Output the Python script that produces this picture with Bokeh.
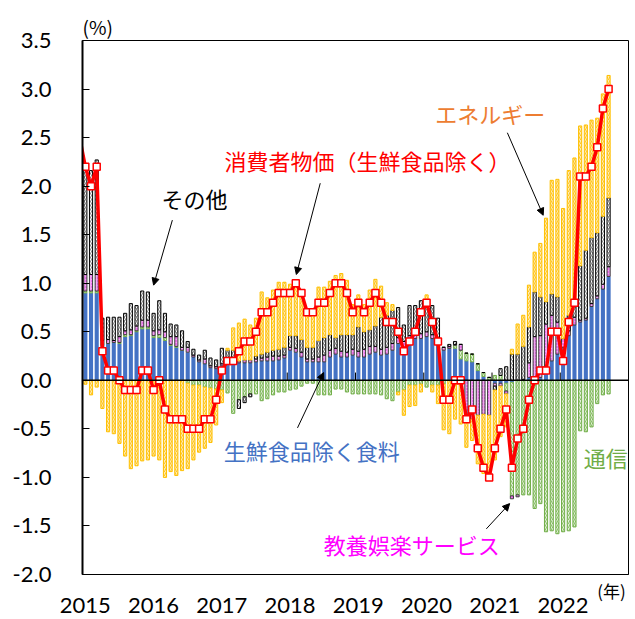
import numpy as np
from bokeh.plotting import figure
from bokeh.models import Range1d, FixedTicker, Label, Arrow, NormalHead, Span, Title
from bokeh.embed import file_html
from bokeh.resources import INLINE

# ---------------- data (monthly, Jan 2015 .. Sep 2022) ----------------
years = ["2015", "2016", "2017", "2018", "2019", "2020", "2021", "2022"]
n_slots = 96  # Jan 2015 .. Dec 2022 on the category axis

core_dec2014 = 2.5
core = [
    2.2, 2.0, 2.2, 0.3, 0.1, 0.1, 0.0, -0.1, -0.1, -0.1, 0.1, 0.1,
    -0.1, 0.0, -0.3, -0.4, -0.4, -0.4, -0.5, -0.5, -0.5, -0.4, -0.4, -0.2,
    0.1, 0.2, 0.2, 0.3, 0.4, 0.4, 0.5, 0.7, 0.7, 0.8, 0.9, 0.9,
    0.9, 1.0, 0.9, 0.7, 0.7, 0.8, 0.8, 0.9, 1.0, 1.0, 0.9, 0.7,
    0.8, 0.7, 0.8, 0.9, 0.8, 0.6, 0.6, 0.5, 0.3, 0.4, 0.5, 0.7,
    0.8, 0.6, 0.4, -0.2, -0.2, 0.0, 0.0, -0.4, -0.3, -0.7, -0.9, -1.0,
    -0.7, -0.5, -0.3, -0.9, -0.6, -0.5, -0.2, 0.0, 0.1, 0.1, 0.5, 0.5,
    0.2, 0.6, 0.8, 2.1, 2.1, 2.2, 2.4, 2.8, 3.0]

food = [
    0.90, 0.90, 0.90, 0.36, 0.38, 0.39, 0.38, 0.45, 0.46, 0.50, 0.53, 0.53,
    0.44, 0.44, 0.41, 0.36, 0.34, 0.31, 0.29, 0.24, 0.19, 0.17, 0.13, 0.12,
    0.15, 0.17, 0.17, 0.18, 0.18, 0.18, 0.19, 0.20, 0.20, 0.20, 0.21, 0.23,
    0.31, 0.29, 0.24, 0.19, 0.19, 0.19, 0.19, 0.24, 0.27, 0.24, 0.24, 0.26,
    0.24, 0.24, 0.27, 0.29, 0.26, 0.27, 0.31, 0.38, 0.33, 0.41, 0.43, 0.43,
    0.45, 0.43, 0.41, 0.31, 0.33, 0.33, 0.22, 0.20, 0.19, 0.10, 0.04, 0.00,
    -0.03, -0.03, -0.03, -0.02, 0.00, 0.01, 0.03, 0.03, 0.03, 0.10, 0.20, 0.27,
    0.34, 0.46, 0.57, 0.60, 0.62, 0.76, 0.84, 0.94, 1.07]

telecom = [
    0.02, 0.02, 0.02, 0.00, 0.00, 0.00, 0.01, 0.02, 0.01, 0.01, 0.02, 0.02,
    0.02, 0.03, 0.03, 0.01, 0.01, 0.00, -0.03, -0.05, -0.05, -0.07, -0.08, -0.09,
    -0.10, -0.13, -0.34, -0.20, -0.17, -0.14, -0.14, -0.21, -0.19, -0.15, -0.12, -0.12,
    -0.10, -0.09, -0.06, -0.03, -0.03, -0.15, -0.15, -0.15, -0.09, -0.09, -0.12, -0.14,
    -0.14, -0.14, -0.14, -0.14, -0.15, -0.19, -0.21, -0.12, -0.10, -0.05, -0.05, -0.04,
    -0.07, -0.05, -0.05, -0.04, 0.00, 0.03, 0.09, 0.08, 0.08, 0.07, 0.04, 0.03,
    0.05, 0.05, -0.08, -1.17, -1.18, -1.18, -1.18, -1.32, -1.27, -1.56, -1.55, -1.58,
    -1.56, -1.55, -1.51, -0.52, -0.53, -0.48, -0.24, -0.15, -0.14]

recreation = [
    0.17, 0.17, 0.17, 0.05, 0.04, 0.02, 0.06, 0.04, 0.05, 0.05, 0.07, 0.07,
    0.05, 0.05, 0.06, 0.08, 0.10, 0.03, 0.05, 0.02, 0.02, 0.05, 0.02, 0.02,
    0.02, 0.02, 0.04, 0.02, 0.03, 0.03, 0.03, 0.03, 0.04, 0.05, 0.04, 0.03,
    0.03, 0.04, 0.05, 0.03, 0.03, 0.05, 0.07, 0.07, 0.06, 0.06, 0.05, 0.06,
    0.06, 0.08, 0.08, 0.06, 0.06, 0.07, 0.07, 0.06, 0.07, 0.05, 0.05, 0.05,
    0.05, 0.04, 0.02, 0.03, 0.02, 0.01, 0.06, -0.38, -0.40, -0.36, -0.35, -0.36,
    -0.03, -0.03, -0.03, -0.03, -0.02, 0.00, 0.15, 0.42, 0.43, 0.48, 0.47, 0.33,
    0.09, 0.05, 0.08, 0.02, 0.02, 0.03, 0.03, 0.05, 0.10]

other = [
    1.12, 1.07, 1.18, 0.23, 0.23, 0.24, 0.20, 0.18, 0.27, 0.21, 0.30, 0.29,
    0.18, 0.30, 0.19, 0.13, 0.12, 0.17, 0.06, 0.06, 0.05, 0.09, 0.08, 0.07,
    0.16, 0.12, 0.10, -0.09, -0.06, -0.03, 0.03, 0.04, 0.05, 0.06, 0.07, 0.08,
    0.12, 0.13, 0.13, 0.12, 0.12, 0.17, 0.18, 0.16, 0.11, 0.17, 0.18, 0.15,
    0.25, 0.18, 0.17, 0.21, 0.33, 0.33, 0.34, 0.31, 0.17, 0.31, 0.29, 0.34,
    0.33, 0.30, 0.21, 0.00, 0.02, 0.03, 0.00, 0.00, 0.00, 0.00, 0.00, 0.00,
    -0.04, 0.07, 0.14, 0.27, 0.27, 0.34, 0.37, 0.46, 0.40, 0.23, 0.22, 0.26,
    0.00, 0.16, 0.12, 0.56, 0.70, 0.68, 0.65, 0.70, 0.71]

energy = [
    -0.04, -0.15, -0.07, -0.29, -0.53, -0.55, -0.65, -0.78, -0.91, -0.88, -0.83, -0.82,
    -0.78, -0.82, -1.00, -0.94, -0.98, -0.93, -0.88, -0.77, -0.69, -0.63, -0.56, -0.37,
    -0.13, 0.02, 0.23, 0.39, 0.42, 0.36, 0.39, 0.64, 0.56, 0.62, 0.69, 0.67,
    0.53, 0.54, 0.46, 0.36, 0.36, 0.55, 0.52, 0.55, 0.64, 0.63, 0.56, 0.31,
    0.33, 0.28, 0.41, 0.48, 0.32, 0.13, 0.06, -0.03, -0.26, -0.22, -0.21, -0.08,
    0.05, -0.07, -0.19, -0.47, -0.55, -0.40, -0.45, -0.31, -0.22, -0.50, -0.61, -0.67,
    -0.72, -0.52, -0.34, 0.05, 0.31, 0.32, 0.43, 0.41, 0.55, 0.86, 1.17, 1.21,
    1.34, 1.49, 1.52, 1.44, 1.29, 1.21, 1.18, 1.26, 1.26]

# ---------------- figure ----------------
p = figure(width=635, height=619, output_backend="svg", toolbar_location=None,
           x_range=Range1d(0, n_slots), y_range=Range1d(-2.0, 3.5),
           min_border_left=82, min_border_right=7, min_border_top=40, min_border_bottom=45)
p.grid.visible = False
p.outline_line_color = "black"
p.outline_line_width = 1
p.background_fill_color = "white"
p.border_fill_color = "white"

p.add_layout(Title(text="(%)", align="left", offset=0, standoff=2,
                   text_font="Noto Sans CJK JP", text_font_size="19px",
                   text_font_style="normal", text_color="black"), "above")

n = len(core)
xc = np.arange(n) + 0.5
pos_base = np.zeros(n)
neg_base = np.zeros(n)

styles = [
    (food, dict(fill_color="#4472C4", line_color=None)),
    (telecom, dict(fill_color="#E2F0D9", line_color="#70AD47", line_width=1,
                   hatch_pattern="/", hatch_color="#8CC16A", hatch_scale=4, hatch_weight=1)),
    (recreation, dict(fill_color="#F3A6F3", line_color="#3A3A3A", line_width=1,
                      hatch_pattern=".", hatch_color="#E020E0", hatch_scale=3, hatch_weight=1)),
    (other, dict(fill_color="#8A8A8A", line_color="black", line_width=1,
                 hatch_pattern="/", hatch_color="white", hatch_scale=4, hatch_weight=1)),
    (energy, dict(fill_color="#FFEBB0", line_color="#FFC000", line_width=1,
                  hatch_pattern="/", hatch_color="#FFC629", hatch_scale=4, hatch_weight=1)),
]
for vals, st in styles:
    v = np.array(vals, dtype=float)
    bottom = np.where(v >= 0, pos_base, neg_base)
    top = bottom + v
    pos_base = np.where(v >= 0, top, pos_base)
    neg_base = np.where(v < 0, top, neg_base)
    bw = 0.72 if st.get("line_color") is None else 0.55
    p.vbar(x=xc, bottom=bottom, top=top, width=bw, **st)

# zero line and year ticks on it
p.add_layout(Span(location=0, dimension="width", line_color="black", line_width=1.5))
yb = np.arange(1, len(years)) * 12
p.segment(x0=yb, y0=np.zeros(len(yb)), x1=yb, y1=np.full(len(yb), 0.08),
          line_color="black", line_width=1)

# core CPI line
xl = np.concatenate([[-0.5], xc])
yl = np.concatenate([[core_dec2014], core])
p.line(xl, yl, line_color="#FF0000", line_width=3.5)
p.scatter(xc, core, marker="square", size=7, fill_color="white",
          line_color="#FF0000", line_width=1.5)

# axes
yt = [-2.0, -1.5, -1.0, -0.5, 0.0, 0.5, 1.0, 1.5, 2.0, 2.5, 3.0, 3.5]
p.yaxis.ticker = FixedTicker(ticks=yt)
p.yaxis.major_label_overrides = {t: f"{t:.1f}" for t in yt}
p.yaxis.major_tick_in = 7
p.yaxis.major_tick_out = 0
p.yaxis.minor_tick_line_color = None
p.yaxis.axis_line_width = 2
p.yaxis.major_label_standoff = 31
p.yaxis.major_label_text_font = "Lato"
p.yaxis.major_label_text_font_size = "22px"
p.yaxis.major_label_text_color = "black"

xt = [i * 12 + 0.5 for i in range(len(years))]
p.xaxis.ticker = FixedTicker(ticks=xt)
p.xaxis.major_label_overrides = {t: y for t, y in zip(xt, years)}
p.xaxis.major_tick_in = 0
p.xaxis.major_tick_out = 0
p.xaxis.minor_tick_line_color = None
p.xaxis.major_label_standoff = 23
p.xaxis.major_label_text_font = "Lato"
p.xaxis.major_label_text_font_size = "22px"
p.xaxis.major_label_text_color = "black"

jp = "Noto Sans CJK JP"

# year unit label (年): as the x-axis label at the right end, pulled up between frame and years
p.xaxis.axis_label_align = "end"
p.xaxis.axis_label = "(年)\u2003\u2003"
p.xaxis.axis_label_standoff = -38
p.xaxis.axis_label_text_font = jp
p.xaxis.axis_label_text_font_size = "17px"
p.xaxis.axis_label_text_font_style = "normal"
p.xaxis.axis_label_text_color = "black"

def lab(x, y, text, color, size="22px"):
    p.add_layout(Label(x=x, y=y, text=text, text_color=color, text_font=jp,
                       text_font_size=size, text_align="center", text_baseline="middle"))

lab(50.1, 2.27, "消費者物価（生鮮食品除く）", "#FF0000")
lab(19.7, 1.88, "その他", "black")
lab(71.7, 2.75, "エネルギー", "#ED7D31")
lab(40.3, -0.72, "生鮮食品除く食料", "#4472C4")
lab(92.0, -0.79, "通信", "#70AD47")
lab(57.9, -1.69, "教養娯楽サービス", "#FF00FF")

def arrow(xs, ys, xe, ye):
    p.add_layout(Arrow(end=NormalHead(size=7, fill_color="black", line_color="black", line_width=1),
                       x_start=xs, y_start=ys, x_end=xe, y_end=ye,
                       line_color="black", line_width=1))

arrow(15.8, 1.65, 12.5, 0.98)
arrow(41.8, 2.03, 37.6, 1.09)
arrow(74.7, 2.55, 81.0, 1.70)
arrow(37.8, -0.49, 42.4, 0.08)
arrow(71.0, -1.53, 75.1, -1.27)

open("out.html", "w").write(file_html(p, INLINE))
